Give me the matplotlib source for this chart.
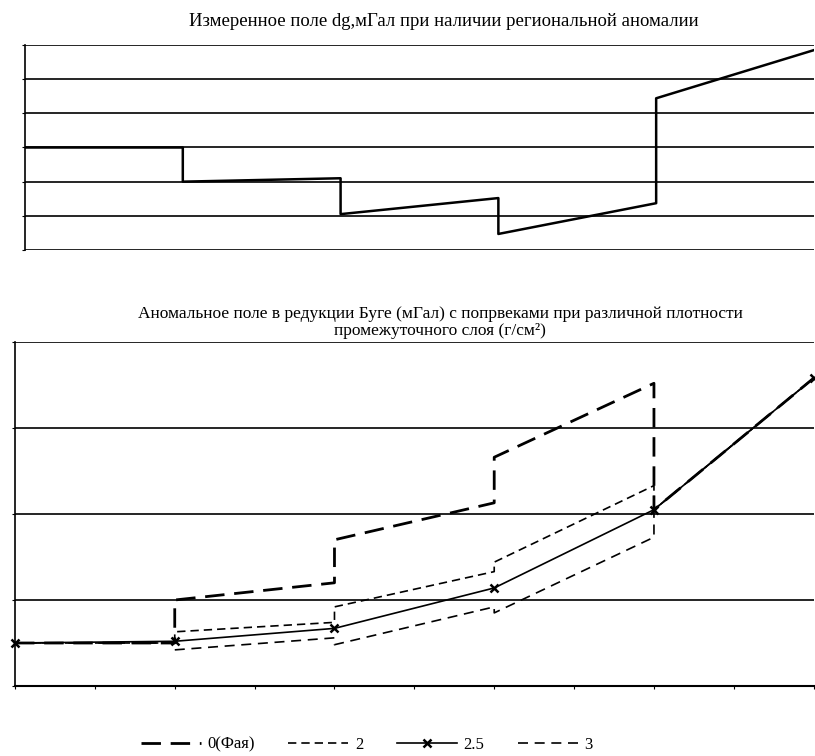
import matplotlib.pyplot as plt
import numpy as np

plt.rcParams['font.family'] = ['Liberation Serif', 'DejaVu Serif']

# верхний график: измеренное поле
x_top = [0, 2, 2, 4, 4, 6, 6, 8, 8, 10]
dg_top = [3.0, 3.0, 2.0, 2.1, 1.05, 1.52, 0.47, 1.37, 4.44, 5.85]

# нижний график: поле Буге при разных плотностях
x_step = [0, 2, 2, 4, 4, 6, 6, 8, 8, 10]
bg_0 = [0.5, 0.5, 1.0, 1.2, 1.7, 2.13, 2.66, 3.52, 2.05, 3.58]
bg_2 = [0.5, 0.5, 0.63, 0.74, 0.92, 1.33, 1.44, 2.33, 2.05, 3.58]
bg_3 = [0.5, 0.5, 0.42, 0.56, 0.48, 0.92, 0.85, 1.73, 2.05, 3.58]
x_25 = [0, 2, 4, 6, 8, 10]
bg_25 = [0.5, 0.52, 0.67, 1.14, 2.05, 3.58]

fig = plt.figure(figsize=(8.15, 7.56), dpi=100)

ax1 = fig.add_axes([0.0307, 0.6693, 0.968, 0.2712])
ax1.plot(x_top, dg_top, color='black', lw=1.8)
ax1.set_xlim(0, 10)
ax1.set_ylim(0, 6)
ax1.set_yticks(np.arange(0, 7, 1))
ax1.set_xticks([])
ax1.yaxis.grid(True, color='black', lw=1.2)
ax1.tick_params(axis='y', length=2, labelleft=False)
for s in ['top', 'right', 'bottom']:
    ax1.spines[s].set_visible(False)
ax1.spines['left'].set_linewidth(1.2)
fig.text(0.545, 0.972, 'Измеренное поле dg,мГал при наличии региональной аномалии',
         ha='center', va='center', fontsize=13.5)

ax2 = fig.add_axes([0.0184, 0.0926, 0.98, 0.455])
ax2.plot(x_step, bg_0, color='black', lw=2.0, dashes=(7, 3.5), label='0(Фая)')
ax2.plot(x_step, bg_2, color='black', lw=1.2, dashes=(5, 3), label='2')
ax2.plot(x_25, bg_25, color='black', lw=1.2, marker='x', ms=6, mew=1.8,
         label='2.5', clip_on=False)
ax2.plot(x_step, bg_3, color='black', lw=1.2, dashes=(6, 4), label='3')
ax2.set_xlim(0, 10)
ax2.set_ylim(0, 4)
ax2.set_yticks(np.arange(0, 5, 1))
ax2.set_xticks(np.arange(0, 11, 1))
ax2.yaxis.grid(True, color='black', lw=1.2)
ax2.tick_params(length=2, labelleft=False, labelbottom=False)
for s in ['top', 'right']:
    ax2.spines[s].set_visible(False)
ax2.spines['left'].set_linewidth(1.2)
ax2.spines['bottom'].set_linewidth(1.5)
fig.text(0.54, 0.573, 'Аномальное поле в редукции Буге (мГал) с попрвеками при различной плотности\nпромежуточного слоя (г/см²)',
         ha='center', va='center', fontsize=12.5, linespacing=1.1)

fig.legend(loc='center', bbox_to_anchor=(0.45, 0.015), ncol=4, frameon=False,
           fontsize=12, handlelength=3.6, columnspacing=2.0, handletextpad=0.4)

fig.savefig('out.png', dpi=100)
